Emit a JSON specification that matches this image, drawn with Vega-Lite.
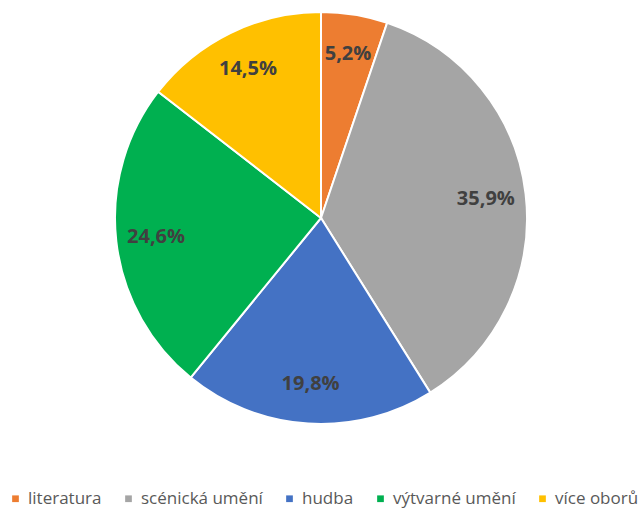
{
  "$schema": "https://vega.github.io/schema/vega-lite/v6.json",
  "width": 412,
  "height": 412,
  "padding": {"left": 115, "top": 12, "right": 116, "bottom": 85},
  "autosize": {"type": "none"},
  "background": "white",
  "view": {"stroke": null},
  "data": {
    "values": [
      {"obor": "literatura", "podil": 5.2, "label": "5,2%", "poradi": 1},
      {"obor": "scénická umění", "podil": 35.9, "label": "35,9%", "poradi": 2},
      {"obor": "hudba", "podil": 19.8, "label": "19,8%", "poradi": 3},
      {"obor": "výtvarné umění", "podil": 24.6, "label": "24,6%", "poradi": 4},
      {"obor": "více oborů", "podil": 14.5, "label": "14,5%", "poradi": 5}
    ]
  },
  "encoding": {
    "theta": {"field": "podil", "type": "quantitative", "stack": true},
    "order": {"field": "poradi", "type": "quantitative"},
    "color": {
      "field": "obor",
      "type": "nominal",
      "sort": ["literatura", "scénická umění", "hudba", "výtvarné umění", "více oborů"],
      "scale": {
        "domain": ["literatura", "scénická umění", "hudba", "výtvarné umění", "více oborů"],
        "range": ["#ED7D31", "#A5A5A5", "#4472C4", "#00B050", "#FFC000"]
      },
      "legend": {
        "title": null,
        "orient": "none",
        "legendX": -108,
        "legendY": 478,
        "direction": "horizontal",
        "columns": 5,
        "columnPadding": 18,
        "symbolType": "square",
        "symbolSize": 45,
        "symbolStrokeWidth": 0,
        "labelFont": "Open Sans",
        "labelFontSize": 17,
        "labelColor": "#595959",
        "labelOffset": 4,
        "labelLimit": 300
      }
    }
  },
  "layer": [
    {
      "mark": {"type": "arc", "outerRadius": 206, "stroke": "white", "strokeWidth": 2}
    },
    {
      "mark": {"type": "text", "radius": 166, "font": "Open Sans", "fontWeight": "bold", "fontSize": 20, "fill": "#404040"},
      "encoding": {
        "text": {"field": "label", "type": "nominal"},
        "color": {"value": "#404040"}
      }
    }
  ]
}
